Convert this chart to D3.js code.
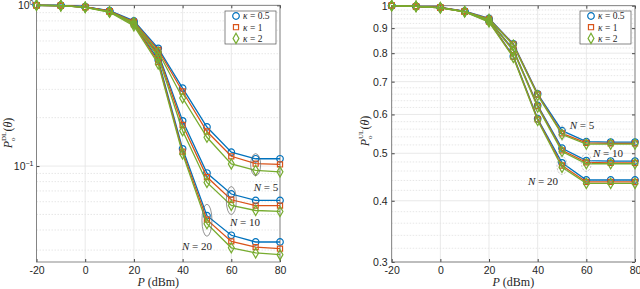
<!DOCTYPE html>
<html>
<head>
<meta charset="utf-8">
<script src="https://cdn.jsdelivr.net/npm/d3@7"></script>
<style>
  body { margin:0; background:#fff; }
  svg { display:block; font-family:"Liberation Serif","DejaVu Serif",serif; }
  .tick text { font-size:10.5px; fill:#262626; }
  .tick line { stroke:#444; }
</style>
</head>
<body>
<div id="chart"></div>
<script>
// transmit power (dBm)
var powerDbm = [-20, -10, 0, 10, 20, 30, 40, 50, 60, 70, 80];
var kappaLabels = ["0.5", "1", "2"];
var xTicks = [-20, 0, 20, 40, 60, 80];

// downlink coverage probability, left panel
var dlN5k05  = [1, 0.997, 0.978, 0.925, 0.80, 0.540, 0.305, 0.175, 0.122, 0.111, 0.111];
var dlN5k1   = [1, 0.996, 0.976, 0.920, 0.79, 0.527, 0.291, 0.164, 0.115, 0.1034, 0.1023];
var dlN5k2   = [1, 0.995, 0.973, 0.913, 0.78, 0.512, 0.265, 0.151, 0.103, 0.094, 0.092];
var dlN10k05 = [1, 0.997, 0.977, 0.922, 0.785, 0.503, 0.191, 0.0905, 0.067, 0.0611, 0.0611];
var dlN10k1  = [1, 0.996, 0.975, 0.917, 0.775, 0.490, 0.180, 0.0854, 0.0617, 0.0568, 0.0567];
var dlN10k2  = [1, 0.995, 0.972, 0.910, 0.765, 0.477, 0.166, 0.0791, 0.0569, 0.0529, 0.0522];
var dlN20k05 = [1, 0.997, 0.976, 0.918, 0.77, 0.457, 0.128, 0.0491, 0.0371, 0.0337, 0.0337];
var dlN20k1  = [1, 0.996, 0.974, 0.912, 0.76, 0.444, 0.123, 0.0464, 0.034, 0.0313, 0.0306];
var dlN20k2  = [1, 0.995, 0.971, 0.905, 0.745, 0.432, 0.119, 0.0438, 0.031, 0.0288, 0.0281];

// uplink coverage probability, right panel
var ulN5k05  = [1, 0.997, 0.992, 0.975, 0.942, 0.836, 0.661, 0.556, 0.528, 0.527, 0.527];
var ulN5k1   = [1, 0.997, 0.992, 0.974, 0.940, 0.834, 0.659, 0.549, 0.525, 0.524, 0.524];
var ulN5k2   = [1, 0.997, 0.991, 0.973, 0.938, 0.831, 0.656, 0.546, 0.522, 0.522, 0.522];
var ulN10k05 = [1, 0.997, 0.991, 0.974, 0.935, 0.814, 0.626, 0.512, 0.483, 0.482, 0.482];
var ulN10k1  = [1, 0.997, 0.991, 0.973, 0.933, 0.812, 0.624, 0.507, 0.479, 0.478, 0.478];
var ulN10k2  = [1, 0.997, 0.990, 0.972, 0.931, 0.809, 0.621, 0.504, 0.476, 0.476, 0.476];
var ulN20k05 = [1, 0.997, 0.991, 0.973, 0.930, 0.789, 0.588, 0.478, 0.441, 0.441, 0.441];
var ulN20k1  = [1, 0.997, 0.990, 0.972, 0.928, 0.787, 0.586, 0.472, 0.437, 0.437, 0.437];
var ulN20k2  = [1, 0.997, 0.990, 0.971, 0.926, 0.784, 0.583, 0.468, 0.434, 0.434, 0.434];

var colors = ["#0072BD", "#D95319", "#77AC30"];
var shapes = [d3.symbolCircle, d3.symbolSquare, d3.symbolDiamond];
var shapeSize = [34, 26, 30];

var svg = d3.select('#chart').append('svg')
    .attr('width', 640)
    .attr('height', 289);

var panels = {
  dl: {
    x0: 36.5, x1: 280, y0: 5.3, y1: 262,
    domain: [0.0253, 1],
    series: [[dlN5k05, dlN10k05, dlN20k05], [dlN5k1, dlN10k1, dlN20k1], [dlN5k2, dlN10k2, dlN20k2]],
    major: [0.1, 1],
    minor: [0.03,0.04,0.05,0.06,0.07,0.08,0.09,0.2,0.3,0.4,0.5,0.6,0.7,0.8,0.9],
    label: 'DL', labelX: 12, labelY: 133,
    legend: {x: 225, y: 11}
  },
  ul: {
    x0: 391.7, x1: 635, y0: 5.7, y1: 262,
    domain: [0.3, 1],
    series: [[ulN5k05, ulN10k05, ulN20k05], [ulN5k1, ulN10k1, ulN20k1], [ulN5k2, ulN10k2, ulN20k2]],
    major: [0.3,0.4,0.5,0.6,0.7,0.8,0.9,1],
    minor: d3.range(0.32, 1.0, 0.02).filter(function(v){ return Math.abs(v*10 - Math.round(v*10)) > 0.01; }),
    label: 'UL', labelX: 369, labelY: 131,
    legend: {x: 580, y: 11}
  }
};

function drawPanel(p) {
  var g = svg.append('g');
  var x = d3.scaleLinear().domain([-20, 80]).range([p.x0, p.x1]);
  var y = d3.scaleLog().domain(p.domain).range([p.y1, p.y0]);

  // grid
  g.selectAll('line.minor').data(p.minor).enter().append('line')
    .attr('x1', p.x0).attr('x2', p.x1)
    .attr('y1', d => y(d)).attr('y2', d => y(d))
    .attr('stroke', '#dcdcdc').attr('stroke-width', 0.7)
    .attr('stroke-dasharray', '1.5,1.5');
  g.selectAll('line.majory').data(p.major).enter().append('line')
    .attr('x1', p.x0).attr('x2', p.x1)
    .attr('y1', d => y(d)).attr('y2', d => y(d))
    .attr('stroke', '#e3e3e3').attr('stroke-width', 0.8);
  g.selectAll('line.majorx').data(xTicks).enter().append('line')
    .attr('x1', d => x(d)).attr('x2', d => x(d))
    .attr('y1', p.y0).attr('y2', p.y1)
    .attr('stroke', '#e3e3e3').attr('stroke-width', 0.8);

  // axes
  var xAxis = d3.axisBottom(x).tickValues(xTicks).tickSize(-3).tickPadding(5)
    .tickFormat(d => String(d));
  g.append('g').attr('transform', 'translate(0,' + p.y1 + ')').call(xAxis)
    .call(a => a.select('.domain').remove());
  g.append('g').attr('transform', 'translate(0,' + p.y0 + ')')
    .call(d3.axisTop(x).tickValues(xTicks).tickSize(-3).tickFormat(''))
    .call(a => a.select('.domain').remove());

  if (p.label === 'DL') {
    var yAxis = d3.axisLeft(y).tickValues([0.1, 1]).tickSize(-3).tickPadding(3).tickFormat('');
    var ya = g.append('g').attr('transform', 'translate(' + p.x0 + ',0)').call(yAxis)
      .call(a => a.select('.domain').remove());
    ya.selectAll('.tick').append('text')
      .attr('x', -3).attr('dy', '0.35em').attr('text-anchor', 'end')
      .style('font-size', '10.5px').attr('fill', '#262626')
      .each(function(d) {
        var t = d3.select(this);
        t.append('tspan').text('10');
        t.append('tspan').attr('dy', -4).style('font-size', '7px')
          .text(d === 1 ? '0' : '\u22121');
      });
  } else {
    var yAxisU = d3.axisLeft(y).tickValues(p.major).tickSize(-3).tickPadding(4)
      .tickFormat(d => d === 1 ? '1' : d3.format('.1f')(d));
    g.append('g').attr('transform', 'translate(' + p.x0 + ',0)').call(yAxisU)
      .call(a => a.select('.domain').remove());
  }
  g.append('g').attr('transform', 'translate(' + p.x1 + ',0)')
    .call(d3.axisRight(y).tickValues(p.major).tickSize(-3).tickFormat(''))
    .call(a => a.select('.domain').remove());

  g.append('rect')
    .attr('x', p.x0).attr('y', p.y0)
    .attr('width', p.x1 - p.x0).attr('height', p.y1 - p.y0)
    .attr('fill', 'none').attr('stroke', '#6b6b6b').attr('stroke-width', 0.8);

  // curves
  var line = d3.line().x((d, i) => x(powerDbm[i])).y(d => y(d));
  p.series.forEach(function(group, k) {
    group.forEach(function(vals) {
      g.append('path').attr('d', line(vals))
        .attr('fill', 'none').attr('stroke', colors[k]).attr('stroke-width', 1.3);
      g.selectAll(null).data(vals).enter().append('path')
        .attr('transform', (d, i) => 'translate(' + x(powerDbm[i]) + ',' + y(d) + ')')
        .attr('d', d3.symbol().type(shapes[k]).size(shapeSize[k]))
        .attr('fill', 'none').attr('stroke', colors[k]).attr('stroke-width', 1.2);
    });
  });

  // axis labels
  var xl = g.append('text')
    .attr('x', (p.x0 + p.x1) / 2).attr('y', 286)
    .attr('text-anchor', 'middle').style('font-size', '12px').attr('fill', '#262626');
  xl.append('tspan').style('font-style', 'italic').text('P');
  xl.append('tspan').text(' (dBm)');

  var yl = g.append('text')
    .attr('transform', 'translate(' + p.labelX + ',' + p.labelY + ') rotate(-90)')
    .attr('text-anchor', 'middle').style('font-size', '12px').attr('fill', '#262626');
  yl.append('tspan').style('font-style', 'italic').text('P');
  yl.append('tspan').attr('dy', 3).style('font-size', '7px').text('o');
  yl.append('tspan').attr('dx', -3.5).attr('dy', -9).style('font-size', '7px').text(p.label);
  yl.append('tspan').attr('dy', 6).text('(');
  yl.append('tspan').style('font-style', 'italic').text('\u03b8');
  yl.append('tspan').text(')');

  // legend
  var lg = g.append('g').attr('transform', 'translate(' + p.legend.x + ',' + p.legend.y + ')');
  lg.append('rect').attr('width', 51).attr('height', 33)
    .attr('fill', '#fff').attr('stroke', '#555').attr('stroke-width', 0.7);
  kappaLabels.forEach(function(k, i) {
    var row = lg.append('g').attr('transform', 'translate(0,' + (5 + i * 11.2) + ')');
    row.append('path').attr('transform', 'translate(11,0)')
      .attr('d', d3.symbol().type(shapes[i]).size(shapeSize[i]))
      .attr('fill', 'none').attr('stroke', colors[i]).attr('stroke-width', 1.2);
    var t = row.append('text').attr('x', 18).attr('dy', '0.35em')
      .style('font-size', '9.5px').attr('fill', '#262626');
    t.append('tspan').style('font-style', 'italic').text('\u03ba');
    t.append('tspan').text(' = ' + k);
  });

  return {x: x, y: y, g: g};
}

var left = drawPanel(panels.dl);
var right = drawPanel(panels.ul);

// N annotations: ellipse round a group of curves plus its label
function annotate(pn, px, val, rx, ry, tx, ty, label, color, dash) {
  pn.g.append('ellipse')
    .attr('cx', pn.x(px)).attr('cy', pn.y(val))
    .attr('rx', rx).attr('ry', ry)
    .attr('fill', 'none').attr('stroke', color).attr('stroke-width', 0.7)
    .attr('stroke-dasharray', dash);
  var t = pn.g.append('text').attr('x', tx).attr('y', ty)
    .attr('text-anchor', 'middle').style('font-size', '11px').attr('fill', '#262626');
  t.append('tspan').style('font-style', 'italic').text('N');
  t.append('tspan').text(' = ' + label);
}
annotate(left, 70, 0.102, 5, 11, 266, 191, '5', '#666', null);
annotate(left, 60, 0.061, 5, 14, 245, 226, '10', '#666', null);
annotate(left, 50, 0.046, 5, 16, 197, 250, '20', '#666', null);
annotate(right, 50, 0.550, 3.5, 7, 582, 129, '5', '#aaa', '2,1.5');
annotate(right, 60, 0.479, 5, 9, 608, 157, '10', '#aaa', '2,1.5');
annotate(right, 50, 0.472, 5, 9, 543, 185, '20', '#aaa', '2,1.5');
</script>
</body>
</html>
